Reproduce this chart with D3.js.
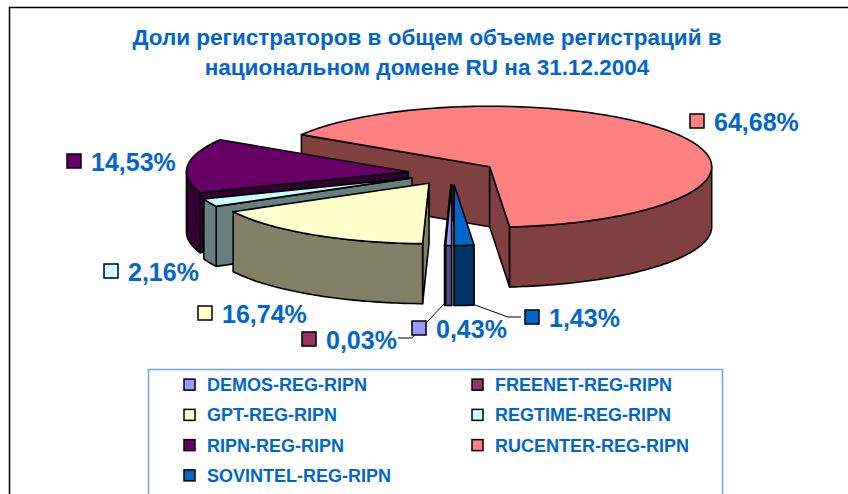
<!DOCTYPE html>
<html>
<head>
<meta charset="utf-8">
<script src="https://cdnjs.cloudflare.com/ajax/libs/d3/7.8.5/d3.min.js"></script>
<style>
html, body { margin: 0; padding: 0; background: #fff; overflow: hidden; }
text { font-family: "Liberation Sans", Arial, sans-serif; font-weight: bold; fill: #0066cc; }
</style>
</head>
<body>
<svg id="chart" width="848" height="494"></svg>
<script>
// registrars, same order as the legend
var registrars = ['DEMOS-REG-RIPN', 'FREENET-REG-RIPN', 'GPT-REG-RIPN', 'REGTIME-REG-RIPN',
    'RIPN-REG-RIPN', 'RUCENTER-REG-RIPN', 'SOVINTEL-REG-RIPN'];
var shares = [0.43, 0.03, 16.74, 2.16, 14.53, 64.68, 1.43];
var shareLabels = ['0,43%', '0,03%', '16,74%', '2,16%', '14,53%', '64,68%', '1,43%'];
var topColors = ['#9999ff', '#993366', '#ffffcc', '#ccffff', '#660066', '#ff8080', '#0066cc'];
var sideColors = ['#4c4c80', '#4c1a33', '#808066', '#668080', '#330033', '#804040', '#003366'];
var titleLines = ['Доли регистраторов в общем объеме регистраций в', 'национальном домене RU на 31.12.2004'];

// where the data label of each slice sits (key box left/top)
var labelPos = [[412, 321], [302, 332], [198, 306], [104, 264], [67, 154], [690, 114], [525, 310]];
var leaders = [
    [[398, 338], [412, 338], [445, 303]],
    [[475, 305], [508, 317], [521, 317]]
];

var W = 848, H = 494;
var cx = 452.2, cy = 173;   // pie centre before the explosion
var rx = 222, ry = 60.5, depth = 60, explode = 44;

var svg = d3.select('#chart');

// outer frame, cut by the bottom and right of the picture
svg.append('rect').attr('x', 9.5).attr('y', 7.5).attr('width', W).attr('height', H)
    .attr('fill', '#fff').attr('stroke', '#000').attr('stroke-width', 1.5);

svg.append('g').selectAll('text').data(titleLines).join('text')
    .attr('x', 427).attr('y', function (d, i) { return 45 + i * 29.5; })
    .attr('text-anchor', 'middle').attr('font-size', 22.5)
    .text(function (d) { return d; });

var pie = d3.pie().sort(null).startAngle(Math.PI).endAngle(3 * Math.PI)
    .value(function (d) { return d.share; });
var slices = pie(registrars.map(function (r, i) { return { i: i, share: shares[i] }; }));

var sx = d3.scaleLinear().domain([-1, 1]).range([-rx, rx]);
var sy = d3.scaleLinear().domain([-1, 1]).range([ry, -ry]);

var line = d3.line();

function project(s, a, r, drop) {
    var mid = (s.startAngle + s.endAngle) / 2;
    var ox = cx + sx(Math.sin(mid)) * explode / rx;
    var oy = cy + sy(Math.cos(mid)) * explode / rx;
    return [ox + sx(Math.sin(a)) * r, oy + sy(Math.cos(a)) * r + drop];
}

function arcPoints(s, a0, a1, drop) {
    var n = Math.max(2, Math.ceil(Math.abs(a1 - a0) / 0.02));
    return d3.range(n + 1).map(function (k) {
        return project(s, a0 + (a1 - a0) * k / n, 1, drop);
    });
}

function drawFace(g, pts, fill) {
    g.append('path').attr('d', line(pts) + 'Z').attr('fill', fill)
        .attr('stroke', '#000').attr('stroke-width', 1.6).attr('stroke-linejoin', 'round');
}

// back to front
var order = [5, 4, 3, 2, 1, 0, 6];
var pieG = svg.append('g');
order.forEach(function (idx) {
    var s = slices[idx], g = pieG.append('g');
    var a0 = s.startAngle, a1 = s.endAngle, side = sideColors[idx];
    var apex = project(s, a0, 0, 0), apexLow = project(s, a0, 0, depth);

    // radial walls, only those turned towards the viewer
    if (Math.sin(a0) < 0.001) {
        drawFace(g, [apex, project(s, a0, 1, 0), project(s, a0, 1, depth), apexLow], side);
    }
    if (Math.sin(a1) > -0.001) {
        drawFace(g, [apex, project(s, a1, 1, 0), project(s, a1, 1, depth), apexLow], side);
    }

    // outer wall: the parts of the rim on the near half of the ellipse
    [Math.PI / 2, 2.5 * Math.PI].forEach(function (nearStart) {
        var from = Math.max(a0, nearStart), to = Math.min(a1, nearStart + Math.PI);
        if (to > from) {
            drawFace(g, arcPoints(s, from, to, 0).concat(arcPoints(s, to, from, depth)), side);
        }
    });

    drawFace(g, [apex].concat(arcPoints(s, a0, a1, 0)), topColors[idx]);
});

// leader lines
svg.append('g').selectAll('path').data(leaders).join('path')
    .attr('d', function (d) { return line(d); })
    .attr('fill', 'none').attr('stroke', '#000').attr('stroke-width', 1);

// data labels
var lab = svg.append('g').selectAll('g').data(shareLabels).join('g')
    .attr('transform', function (d, i) { return 'translate(' + labelPos[i] + ')'; });
lab.append('rect').attr('width', 14).attr('height', 14)
    .attr('fill', function (d, i) { return topColors[i]; })
    .attr('stroke', '#000').attr('stroke-width', 1.5);
lab.append('text').attr('x', 24).attr('y', 16.5).attr('font-size', 25)
    .text(function (d) { return d; });

// legend
svg.append('rect').attr('x', 148.5).attr('y', 369.5).attr('width', 574).attr('height', 140)
    .attr('fill', '#fff').attr('stroke', '#6fa5e0').attr('stroke-width', 1.5);

var legendX = d3.scaleOrdinal().domain([0, 1]).range([184, 472]);
var legendY = d3.scaleBand().domain(d3.range(4)).range([370, 491]);
var leg = svg.append('g').selectAll('g').data(registrars).join('g')
    .attr('transform', function (d, i) {
        return 'translate(' + legendX(i % 2) + ',' + (legendY(Math.floor(i / 2)) + legendY.bandwidth() / 2) + ')';
    });
leg.append('rect').attr('x', 0).attr('y', -6).attr('width', 11).attr('height', 11)
    .attr('fill', function (d, i) { return topColors[i]; })
    .attr('stroke', '#000').attr('stroke-width', 1.5);
leg.append('text').attr('x', 23).attr('y', 6).attr('font-size', 18)
    .text(function (d) { return d; });
</script>
</body>
</html>
